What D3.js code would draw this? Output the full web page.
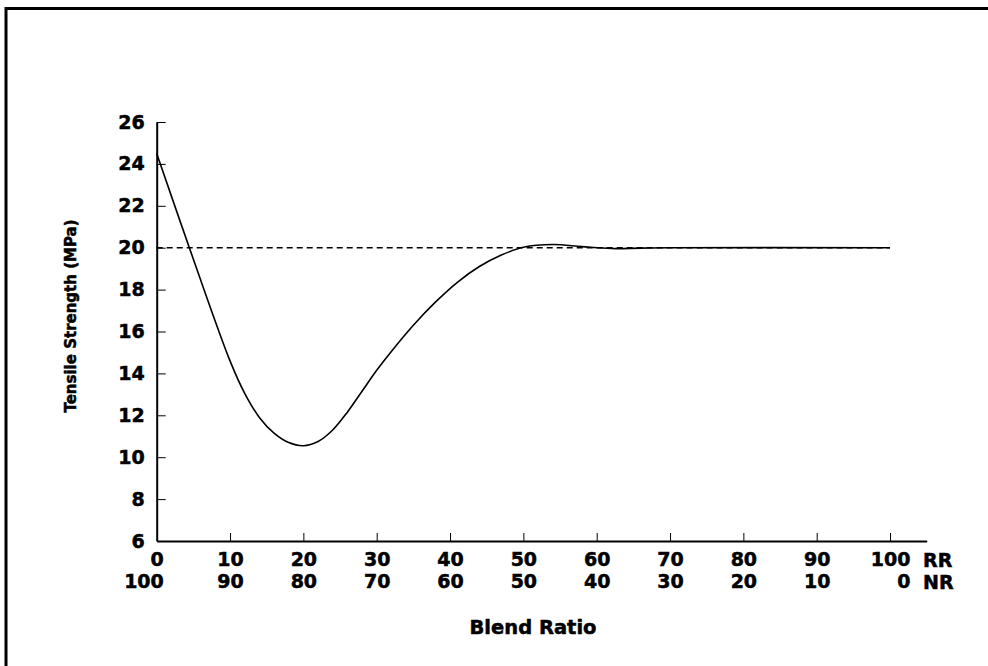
<!DOCTYPE html>
<html>
<head>
<meta charset="utf-8">
<script src="https://cdn.jsdelivr.net/npm/d3@7"></script>
<style>
    html, body { margin: 0; padding: 0; background: #fff; }
    svg { display: block; }
    text { font-family: "DejaVu Sans", sans-serif; font-weight: bold; fill: #000; stroke: #000; stroke-width: 0.5px; }
</style>
</head>
<body>
<svg id="chart" width="988" height="666"></svg>
<script>
(function() {
    // blend ratio (% RR) and tensile strength (MPa)
    var blendRR = [0, 5, 10, 12, 14, 16, 18, 20, 22, 24, 26, 28, 30, 32, 35, 38, 41, 44, 47, 50, 54, 58, 62, 66, 70, 100];
    var strength = [24.5, 19.45, 14.6, 13.05, 11.9, 11.15, 10.7, 10.55, 10.75, 11.3, 12.15, 13.15, 14.15, 15.05, 16.3, 17.4, 18.35, 19.1, 19.65, 20.02, 20.15, 20.05, 19.96, 19.98, 20.0, 20.0];
    var refLevel = 20; // dashed line

    var xTicks = [0, 10, 20, 30, 40, 50, 60, 70, 80, 90, 100];
    var yTicks = [6, 8, 10, 12, 14, 16, 18, 20, 22, 24, 26];

    var svg = d3.select("#chart");

    var x = d3.scaleLinear().domain([0, 105]).range([156.7, 926.7]),
        y = d3.scaleLinear().domain([6, 26]).range([541, 122]);

    // cadre (bord gauche + haut seulement)
    svg.append("path")
        .attr("d", "M6,666V8.5H988")
        .attr("fill", "none")
        .attr("stroke", "#000")
        .attr("stroke-width", 3);

    // axe Y
    var gy = svg.append("g")
        .attr("transform", "translate(" + x(0) + ",0)")
        .call(d3.axisLeft(y).tickValues(yTicks).tickSize(-9).tickPadding(12).tickSizeOuter(0));
    gy.select(".domain").attr("stroke-width", 2);
    gy.selectAll(".tick line").attr("stroke-width", 1);
    gy.selectAll(".tick text").attr("font-size", 19).attr("font-family", null);
    gy.selectAll(".tick").filter(function(d) { return d === 6; }).select("line").remove();

    // axe X (ligne 1 = RR, ligne 2 = NR)
    var gx = svg.append("g")
        .attr("transform", "translate(0," + y(6) + ")")
        .call(d3.axisBottom(x).tickValues(xTicks).tickSize(-8).tickPadding(12).tickSizeOuter(0));
    gx.select(".domain").attr("stroke-width", 2);
    gx.selectAll(".tick line").attr("stroke-width", 1);
    gx.selectAll(".tick").filter(function(d) { return d === 0; }).select("line").remove();
    gx.selectAll(".tick text").attr("font-size", 19).attr("font-family", null);

    gx.selectAll(".tick").each(function(d) {
        var t = d3.select(this).select("text");
        var w = t.node().getComputedTextLength();
        d3.select(this).append("text")
            .attr("x", w / 2)
            .attr("y", 47)
            .attr("text-anchor", "end")
            .attr("font-size", 19)
            .text(100 - d);
    });

    svg.append("text")
        .attr("x", x(100) + 33)
        .attr("y", 567)
        .attr("font-size", 19)
        .text("RR");
    svg.append("text")
        .attr("x", x(100) + 33)
        .attr("y", 588.5)
        .attr("font-size", 19)
        .text("NR");

    // titres
    svg.append("text")
        .attr("x", 533)
        .attr("y", 634)
        .attr("text-anchor", "middle")
        .attr("font-size", 19.5)
        .text("Blend Ratio");

    svg.append("text")
        .attr("transform", "translate(76,316) rotate(-90)")
        .attr("text-anchor", "middle")
        .attr("font-size", 15)
        .text("Tensile Strength (MPa)");

    // ligne de référence
    svg.append("line")
        .attr("x1", x(0))
        .attr("x2", x(100))
        .attr("y1", y(refLevel))
        .attr("y2", y(refLevel))
        .attr("stroke", "#000")
        .attr("stroke-width", 1.6)
        .attr("stroke-dasharray", "6,4");

    // courbe
    var line = d3.line()
        .x(function(d, i) { return x(blendRR[i]); })
        .y(function(d) { return y(d); })
        .curve(d3.curveCatmullRom.alpha(0.5));

    svg.append("path")
        .datum(strength)
        .attr("d", line)
        .attr("fill", "none")
        .attr("stroke", "#000")
        .attr("stroke-width", 1.6);
})();
</script>
</body>
</html>
